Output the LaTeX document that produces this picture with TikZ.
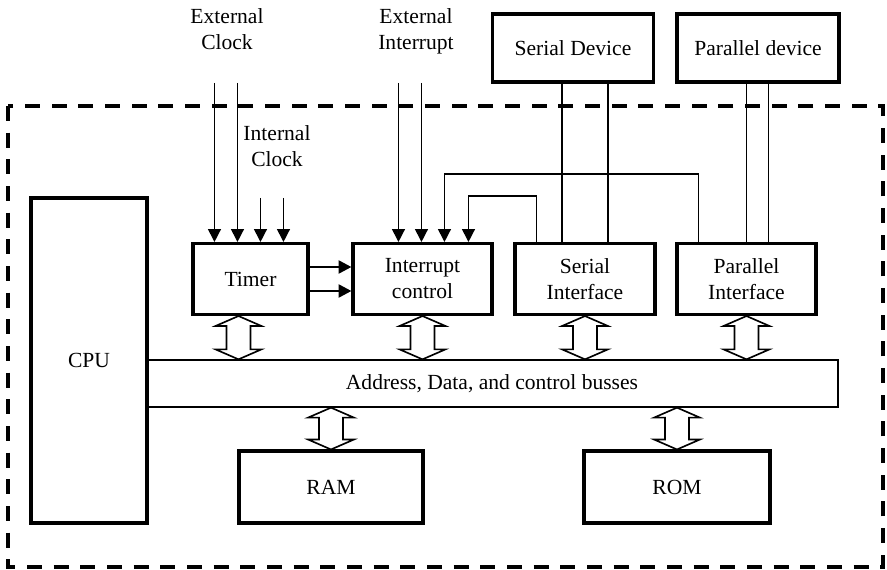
\documentclass[tikz,border=0pt]{standalone}
\usepackage{fontspec}
\setmainfont{Liberation Serif}
\usetikzlibrary{arrows.meta,calc}

\tikzset{
  blk/.style={draw, line width=2.6pt, inner sep=0pt, align=center},
  wire/.style={line width=1.3pt},
  sig/.style={wire, -{Triangle[length=11pt,width=11pt]}},
  tsig/.style={line width=2.2pt, -{Triangle[length=11pt,width=11pt]}},
  busarr/.style={draw, line width=1.4pt, fill=white, line join=miter},
  lbl/.style={align=center}
}

% open double arrow between a point and the level of another
\newcommand{\busarrow}[2]{%
  \draw[busarr] (#1) -- ++(23,10) -- ++(-11,0) -- ($(#1 |- #2)+(12,-10)$)
    -- ++(11,0) -- (#1 |- #2) -- ++(-23,-10) -- ++(11,0)
    -- ($(#1)+(-12,10)$) -- ++(-11,0) -- cycle;}

\begin{document}
\begin{tikzpicture}[x=0.03cm, y=-0.03cm, font=\fontsize{18.4}{22.2}\selectfont]
  \useasboundingbox (0,0) rectangle (887,570);

  % Chip boundary
  \draw[line width=3.4pt, dash pattern=on 0.45cm off 0.35cm] (8,106) rectangle (883,567);

  % Blocks
  \node[draw, line width=1.1pt, minimum width=20.76cm, minimum height=1.41cm] (bus) at (492,383.5) {Address, Data, and control busses};
  \node[blk, minimum width=3.48cm, minimum height=9.75cm] (cpu) at (89,360.5) {CPU};
  \node[blk, minimum width=3.45cm, minimum height=2.13cm] (timer) at (250.5,279) {Timer};
  \node[blk, minimum width=4.17cm, minimum height=2.13cm] (intr) at (422.5,279) {Interrupt\\control};
  \node[blk, minimum width=4.2cm, minimum height=2.13cm] (serif) at (585,279) {Serial\\Interface};
  \node[blk, minimum width=4.17cm, minimum height=2.13cm] (parif) at (746.5,279) {Parallel\\Interface};
  \node[blk, minimum width=4.83cm, minimum height=2.04cm] (serdev) at (573,48) {Serial Device};
  \node[blk, minimum width=4.86cm, minimum height=2.04cm] (pardev) at (758,48) {Parallel device};
  \node[blk, minimum width=5.52cm, minimum height=2.16cm] (ram) at (331,487) {RAM};
  \node[blk, minimum width=5.58cm, minimum height=2.16cm] (rom) at (677,487) {ROM};

  % Signal labels
  \node[lbl] (eclkl) at (227,29) {External\\Clock};
  \node[lbl] (iclkl) at (277,146) {Internal\\Clock};
  \node[lbl] (eintl) at (416,31) {External\\Interrupt};
  \coordinate (eclk) at (227,83);
  \coordinate (iclk) at (273,198);
  \coordinate (eint) at (411,83);

  % Clock inputs
  \foreach \dx in {23,46}
    \draw[sig] ($(timer.north west |- eclk)+(\dx,0)$) -- ($(timer.north west)+(\dx,0)$);
  \foreach \dx in {69,92}
    \draw[sig] ($(timer.north west |- iclk)+(\dx,0)$) -- ($(timer.north west)+(\dx,0)$);

  % Interrupt inputs
  \foreach \dx in {47,70}
    \draw[sig] ($(intr.north west |- eint)+(\dx,0)$) -- ($(intr.north west)+(\dx,0)$);
  \draw[sig] ($(serif.north west)+(23,0)$) -- ++(0,-46) -| ($(intr.north west)+(117,0)$);
  \draw[sig] ($(parif.north west)+(23,0)$) -- ++(0,-68) -| ($(intr.north west)+(93,0)$);
  \foreach \dy in {-12,12}
    \draw[tsig] ($(timer.east)+(0,\dy)$) -- ($(intr.west)+(0,\dy)$);

  % Device lines
  \foreach \dx in {-23,23}
    \draw[wire] ($(serif.north)+(\dx,0)$) -- ($(serif.north |- serdev.south)+(\dx,0)$);
  \foreach \dx in {0,22}
    \draw[wire] ($(parif.north)+(\dx,0)$) -- ($(parif.north |- pardev.south)+(\dx,0)$);

  % Bus connections
  \coordinate (tmrtop) at ($(timer.south)+(-12,0)$);
  \busarrow{tmrtop}{bus.north}
  \busarrow{intr.south}{bus.north}
  \busarrow{serif.south}{bus.north}
  \busarrow{parif.south}{bus.north}
  \coordinate (ramtop) at (ram.north |- bus.south);
  \coordinate (romtop) at (rom.north |- bus.south);
  \busarrow{ramtop}{ram.north}
  \busarrow{romtop}{rom.north}
\end{tikzpicture}
\end{document}
